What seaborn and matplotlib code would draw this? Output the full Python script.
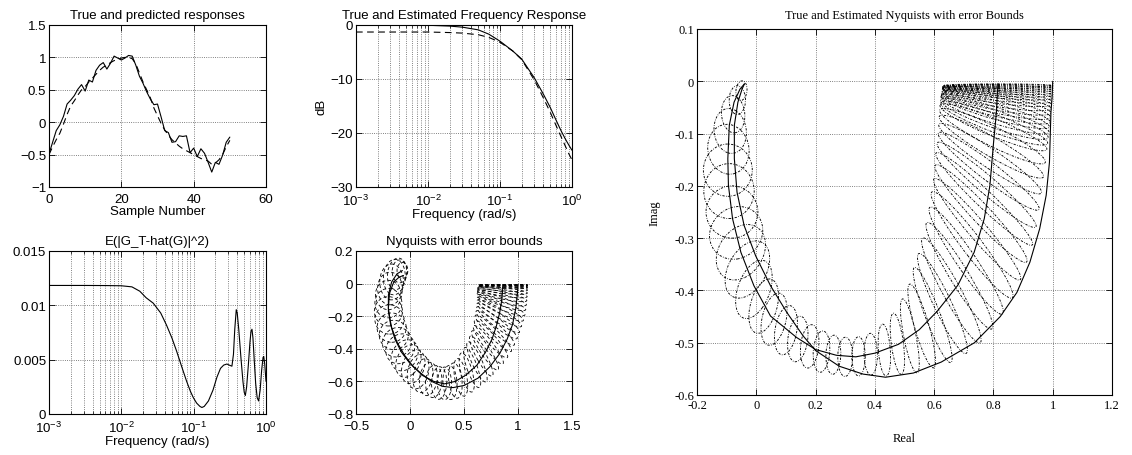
import numpy as np
import matplotlib
matplotlib.use("Agg")
import matplotlib.pyplot as plt
from matplotlib.patches import Ellipse
from matplotlib.ticker import NullFormatter, LogLocator
import seaborn as sns

# ---------------- data ----------------
# top left: true and predicted responses
sample = list(range(51))
y_true = [-0.49, -0.31, -0.13, -0.04, 0.09, 0.28, 0.34, 0.41, 0.51, 0.58, 0.48, 0.65, 0.62,
          0.80, 0.88, 0.92, 0.82, 0.91, 1.02, 0.99, 0.96, 0.99, 1.03, 1.02, 0.88, 0.71, 0.60,
          0.47, 0.36, 0.27, 0.28, 0.08, -0.13, -0.16, -0.31, -0.30, -0.21, -0.22, -0.21, -0.47,
          -0.40, -0.53, -0.41, -0.48, -0.62, -0.77, -0.62, -0.65, -0.51, -0.31, -0.23]
y_pred = [-0.50, -0.38, -0.27, -0.17, -0.03, 0.12, 0.25, 0.33, 0.42, 0.50, 0.55, 0.62, 0.68,
          0.74, 0.80, 0.85, 0.88, 0.92, 0.95, 0.97, 0.99, 1.00, 1.00, 0.98, 0.90, 0.76, 0.62,
          0.50, 0.38, 0.22, 0.10, -0.02, -0.12, -0.20, -0.27, -0.32, -0.37, -0.41, -0.44, -0.47,
          -0.50, -0.53, -0.56, -0.58, -0.60, -0.65, -0.63, -0.58, -0.50, -0.38, -0.28]

# top middle: frequency response in dB
freq_resp = [0.001, 0.002, 0.005, 0.01, 0.02, 0.03, 0.05, 0.07, 0.1, 0.15, 0.2, 0.3, 0.4,
             0.5, 0.6, 0.7, 0.8, 0.9, 1.0]
db_true = [0.0, 0.0, -0.01, -0.05, -0.2, -0.4, -0.9, -1.7, -3.0, -4.8, -6.3, -9.8, -12.8,
           -15.3, -17.6, -19.5, -21.0, -22.2, -23.2]
db_est = [-1.3, -1.3, -1.3, -1.3, -1.4, -1.5, -1.8, -2.3, -3.2, -4.8, -6.4, -10.2, -13.5,
          -16.2, -18.6, -20.6, -22.3, -23.8, -25.0]

# bottom left: error variance
freq_err = [0.001, 0.003, 0.006, 0.01, 0.014, 0.018, 0.022, 0.0276, 0.035, 0.042, 0.05, 0.058,
            0.068, 0.08, 0.09, 0.099, 0.11, 0.122, 0.13, 0.14, 0.16, 0.185, 0.21, 0.235, 0.26,
            0.288, 0.31, 0.338, 0.355, 0.37, 0.388, 0.40, 0.42, 0.45, 0.48, 0.50, 0.518, 0.54,
            0.57, 0.60, 0.62, 0.64, 0.66, 0.69, 0.72, 0.755, 0.79, 0.83, 0.87, 0.91, 0.93,
            0.96, 1.0]
err_var = [0.01183, 0.01183, 0.01182, 0.0118, 0.0117, 0.0113, 0.0107, 0.0102, 0.0093, 0.0082,
           0.0070, 0.0058, 0.0044, 0.0030, 0.0021, 0.0015, 0.0010, 0.0007, 0.0006, 0.0007,
           0.0012, 0.0022, 0.0034, 0.0042, 0.0045, 0.0046, 0.0045, 0.0044, 0.0055, 0.0078,
           0.0096, 0.0093, 0.0078, 0.0052, 0.0030, 0.0020, 0.0017, 0.0025, 0.0045, 0.0066,
           0.0076, 0.0078, 0.0070, 0.0048, 0.0028, 0.0015, 0.0012, 0.0022, 0.0040, 0.0052,
           0.0053, 0.0046, 0.0030]

# bottom middle: Nyquist curves and error ellipses
bm_est_re = [0.86, 0.855, 0.845, 0.83, 0.80, 0.76, 0.70, 0.62, 0.52, 0.42, 0.32, 0.22, 0.12,
             0.03, -0.05, -0.12, -0.17, -0.2, -0.2, -0.17, -0.12, -0.07]
bm_est_im = [-0.01, -0.06, -0.12, -0.18, -0.26, -0.34, -0.42, -0.50, -0.56, -0.60, -0.615,
             -0.60, -0.565, -0.51, -0.44, -0.36, -0.27, -0.17, -0.07, 0.01, 0.06, 0.08]
bm_true_re = [1.0, 0.995, 0.98, 0.95, 0.9, 0.83, 0.74, 0.63, 0.5, 0.4, 0.3, 0.2, 0.1, 0.0,
              -0.08, -0.14, -0.18, -0.2, -0.19, -0.15, -0.1, -0.06]
bm_true_im = [-0.005, -0.06, -0.15, -0.25, -0.34, -0.43, -0.51, -0.58, -0.625, -0.638, -0.63,
              -0.6, -0.55, -0.49, -0.42, -0.34, -0.25, -0.15, -0.06, 0.01, 0.04, 0.05]
bm_ell_x = [0.86, 0.86, 0.859, 0.859, 0.858, 0.857, 0.856, 0.854, 0.851, 0.847, 0.842, 0.836,
            0.828, 0.818, 0.806, 0.79, 0.772, 0.75, 0.725, 0.695, 0.66, 0.62, 0.575, 0.525,
            0.47, 0.42, 0.37, 0.32, 0.27, 0.22, 0.17, 0.12, 0.075, 0.03, -0.015, -0.05, -0.09,
            -0.12, -0.15, -0.17, -0.19, -0.2, -0.2, -0.2, -0.185, -0.17, -0.145, -0.12,
            -0.095, -0.07]
bm_ell_y = [-0.008, -0.012, -0.016, -0.02, -0.03, -0.042, -0.056, -0.072, -0.09, -0.11, -0.132,
            -0.156, -0.182, -0.21, -0.24, -0.272, -0.305, -0.34, -0.375, -0.41, -0.445, -0.48,
            -0.515, -0.545, -0.575, -0.595, -0.607, -0.612, -0.61, -0.6, -0.585, -0.565, -0.54,
            -0.51, -0.475, -0.44, -0.4, -0.36, -0.315, -0.27, -0.22, -0.17, -0.12, -0.07,
            -0.03, 0.01, 0.04, 0.06, 0.075, 0.08]
bm_ell_w = [0.46, 0.46, 0.46, 0.46, 0.46, 0.46, 0.46, 0.46, 0.46, 0.46, 0.46, 0.45, 0.44, 0.43,
            0.42, 0.41, 0.40, 0.38, 0.36, 0.34, 0.32, 0.30, 0.28, 0.26, 0.24, 0.22, 0.21, 0.20,
            0.20, 0.20, 0.21, 0.22, 0.23, 0.24, 0.25, 0.26, 0.27, 0.27, 0.27, 0.27, 0.27, 0.26,
            0.25, 0.24, 0.23, 0.22, 0.20, 0.17, 0.14, 0.10]
bm_ell_h = [0.006, 0.01, 0.015, 0.02, 0.03, 0.035, 0.04, 0.045, 0.05, 0.05, 0.055, 0.055, 0.06,
            0.06, 0.06, 0.065, 0.065, 0.07, 0.07, 0.075, 0.08, 0.085, 0.09, 0.10, 0.11, 0.12,
            0.13, 0.13, 0.14, 0.15, 0.16, 0.17, 0.18, 0.18, 0.18, 0.18, 0.18, 0.18, 0.18, 0.18,
            0.18, 0.18, 0.18, 0.18, 0.2, 0.22, 0.22, 0.2, 0.14, 0.10]
bm_ell_ang = [0, 0, -1, -1.5, -2.5, -4, -6, -8, -10, -12.5, -15, -18, -21, -24, -27, -30, -33,
              -36, -40, -44, -49, -54, -60, -66, -72, -78, -84, 90, 85, 80, 70, 60, 50, 40, 30,
              20, 10, 5, 0, 0, 0, 0, 0, 0, 0, -10, -20, -30, -40, -45]

# right: Nyquist curves and error ellipses (large view)
rp_est_re = [0.815, 0.81, 0.80, 0.788, 0.769, 0.735, 0.68, 0.61, 0.55, 0.48, 0.40, 0.336, 0.27,
             0.20, 0.136, 0.048, -0.008, -0.052, -0.08, -0.094, -0.096, -0.091, -0.075, -0.055,
             -0.04]
rp_est_im = [-0.005, -0.06, -0.12, -0.2, -0.263, -0.327, -0.39, -0.44, -0.475, -0.503, -0.52,
             -0.527, -0.524, -0.513, -0.49, -0.449, -0.391, -0.327, -0.263, -0.199, -0.148,
             -0.084, -0.04, -0.015, -0.005]
rp_true_re = [1.0, 0.998, 0.994, 0.989, 0.978, 0.956, 0.923, 0.879, 0.823, 0.736, 0.624, 0.53,
              0.436, 0.36, 0.28, 0.2, 0.158, 0.103, 0.048, -0.002, -0.041, -0.065, -0.074,
              -0.074, -0.062, -0.048, -0.04]
rp_true_im = [0.0, -0.03, -0.059, -0.155, -0.218, -0.282, -0.346, -0.404, -0.45, -0.5, -0.537,
              -0.558, -0.566, -0.56, -0.545, -0.515, -0.487, -0.442, -0.391, -0.334, -0.276,
              -0.212, -0.148, -0.084, -0.04, -0.015, -0.005]
rp_ell_x = [0.815, 0.815, 0.815, 0.814, 0.814, 0.813, 0.813, 0.812, 0.812, 0.811, 0.810, 0.809,
            0.808, 0.806, 0.805, 0.803, 0.802, 0.800, 0.797, 0.793, 0.789, 0.784, 0.777, 0.769,
            0.758, 0.745, 0.728, 0.708, 0.685, 0.658, 0.628, 0.595, 0.558, 0.518, 0.476, 0.432,
            0.386, 0.345, 0.30, 0.26, 0.22, 0.18, 0.14, 0.10, 0.06, 0.025, -0.008, -0.03,
            -0.052, -0.068, -0.082, -0.092, -0.096, -0.094, -0.088, -0.078, -0.064, -0.05]
rp_ell_y = [-0.008, -0.010, -0.012, -0.014, -0.017, -0.020, -0.023, -0.027, -0.031, -0.036,
            -0.041, -0.046, -0.052, -0.058, -0.065, -0.072, -0.080, -0.088, -0.105, -0.125,
            -0.148, -0.172, -0.198, -0.225, -0.253, -0.283, -0.313, -0.343, -0.372, -0.400,
            -0.425, -0.447, -0.468, -0.487, -0.502, -0.514, -0.522, -0.526, -0.527, -0.523,
            -0.517, -0.507, -0.493, -0.476, -0.455, -0.43, -0.398, -0.36, -0.327, -0.29,
            -0.25, -0.21, -0.17, -0.13, -0.095, -0.063, -0.036, -0.018]
rp_ell_w = [0.37, 0.37, 0.37, 0.37, 0.37, 0.37, 0.37, 0.37, 0.37, 0.37, 0.37, 0.37, 0.37, 0.37,
            0.37, 0.37, 0.37, 0.37, 0.37, 0.37, 0.37, 0.37, 0.37, 0.37, 0.36, 0.35, 0.34, 0.32,
            0.30, 0.28, 0.25, 0.22, 0.18, 0.15, 0.12, 0.10, 0.08, 0.075, 0.075, 0.075, 0.08,
            0.085, 0.09, 0.10, 0.11, 0.12, 0.14, 0.16, 0.17, 0.18, 0.175, 0.17, 0.165, 0.14,
            0.11, 0.08, 0.055, 0.035]
rp_ell_h = [0.006, 0.008, 0.010, 0.012, 0.014, 0.016, 0.018, 0.020, 0.022, 0.025, 0.028, 0.030,
            0.030, 0.030, 0.032, 0.035, 0.035, 0.035, 0.040, 0.040, 0.040, 0.040, 0.040, 0.040,
            0.045, 0.045, 0.050, 0.050, 0.050, 0.050, 0.050, 0.045, 0.045, 0.040, 0.040, 0.040,
            0.045, 0.045, 0.05, 0.05, 0.055, 0.06, 0.065, 0.07, 0.075, 0.08, 0.09, 0.095, 0.10,
            0.10, 0.10, 0.105, 0.10, 0.095, 0.085, 0.07, 0.055, 0.04]
rp_ell_ang = [0, 0, -0.5, -1, -1.5, -2, -2.8, -3.5, -4.2, -5, -6, -7, -8, -9, -10, -11, -12, -13,
              -15.5, -18, -20.5, -23, -25.5, -28, -30.5, -33, -36, -39, -42, -45, -49, -55, -62,
              -70, -76, -82, -88, 90, 88, 84, 78, 72, 68, 62, 55, 48, 38, 25, 15, 5, 0, 0, 0,
              -5, -10, -20, -30, -45]

# ---------------- styling ----------------
sns.set_theme(style="ticks", rc={"axes.edgecolor": "black", "text.color": "black",
                                 "xtick.color": "black", "ytick.color": "black",
                                 "axes.labelcolor": "black"})
plt.rcParams["font.family"] = ["Liberation Sans", "DejaVu Sans"]
plt.rcParams["mathtext.fontset"] = "custom"
plt.rcParams["mathtext.rm"] = "Liberation Sans"
plt.rcParams["mathtext.default"] = "regular"

SANS = 9.5
SERIF = ["Liberation Serif", "DejaVu Serif"]
GRID = dict(linestyle=":", color="0.35", linewidth=0.6)


def num_label(v, minus="\u2212"):
    s = f"{round(v, 6) + 0.0:g}"
    return s.replace("-", minus)


def prep(ax):
    for sp in ax.spines.values():
        sp.set_color("black")
        sp.set_linewidth(0.8)
    ax.tick_params(which="major", direction="in", top=True, right=True, length=4, width=0.6,
                   pad=2)
    ax.tick_params(axis="x", which="major", pad=4.5)
    ax.tick_params(which="minor", direction="in", top=True, right=True, length=2, width=0.5)
    ax.set_axisbelow(True)


def line(ax, x, y, ls="-"):
    sns.lineplot(x=x, y=y, ax=ax, color="black", linewidth=0.8, linestyle=ls,
                 sort=False, estimator=None)


def ellipses(ax, xs, ys, ws, hs, angs, ls, lw):
    for x, y, w, h, a in zip(xs, ys, ws, hs, angs):
        ax.add_patch(Ellipse((x, y), w, h, angle=a, fill=False, edgecolor="black",
                             linestyle=ls, linewidth=lw))


def log_axis(ax):
    ax.set_xscale("log")
    ax.set_xlim(1e-3, 1)
    ax.set_xticks([1e-3, 1e-2, 1e-1, 1],
                  labels=[r"$10^{-3}$", r"$10^{-2}$", r"$10^{-1}$", r"$10^{0}$"], fontsize=SANS)
    ax.xaxis.set_minor_locator(LogLocator(base=10, subs=np.arange(2, 10)))
    ax.xaxis.set_minor_formatter(NullFormatter())
    ax.xaxis.grid(True, which="both", **GRID)
    ax.yaxis.grid(True, which="major", **GRID)


fig = plt.figure(figsize=(11.32, 4.56), dpi=100)
W, H = 1132, 456
ax_tl = fig.add_axes([49 / W, 1 - 188 / H, 217 / W, 162 / H])
ax_tm = fig.add_axes([356 / W, 1 - 188 / H, 216 / W, 162 / H])
ax_bl = fig.add_axes([49 / W, 1 - 415 / H, 217 / W, 163 / H])
ax_bm = fig.add_axes([356 / W, 1 - 415 / H, 216 / W, 163 / H])
ax_r = fig.add_axes([697 / W, 1 - 396 / H, 415 / W, 366 / H])

# top left
prep(ax_tl)
line(ax_tl, sample, y_true, "-")
line(ax_tl, sample, y_pred, (0, (6, 4)))
ax_tl.set_xlim(0, 60)
ax_tl.set_ylim(-1, 1.5)
xt = [0, 20, 40, 60]
yt = [-1, -0.5, 0, 0.5, 1, 1.5]
ax_tl.set_xticks(xt, labels=[num_label(v) for v in xt], fontsize=SANS)
ax_tl.set_yticks(yt, labels=[num_label(v) for v in yt], fontsize=SANS)
ax_tl.grid(True, **GRID)
ax_tl.set_title("True and predicted responses", fontsize=SANS, pad=5)
ax_tl.set_xlabel("Sample Number", fontsize=SANS, labelpad=0)
ax_tl.set_ylabel("")

# top middle
prep(ax_tm)
line(ax_tm, freq_resp, db_true, "-")
line(ax_tm, freq_resp, db_est, (0, (6, 4)))
log_axis(ax_tm)
ax_tm.set_ylim(-30, 0)
yt = [-30, -20, -10, 0]
ax_tm.set_yticks(yt, labels=[num_label(v) for v in yt], fontsize=SANS)
ax_tm.set_title("True and Estimated Frequency Response", fontsize=SANS, pad=5)
ax_tm.set_xlabel("Frequency (rad/s)", fontsize=SANS, labelpad=0)
ax_tm.set_ylabel("dB", fontsize=SANS, labelpad=2)

# bottom left
prep(ax_bl)
line(ax_bl, freq_err, err_var, "-")
log_axis(ax_bl)
ax_bl.set_ylim(0, 0.015)
yt = [0, 0.005, 0.01, 0.015]
ax_bl.set_yticks(yt, labels=[num_label(v) for v in yt], fontsize=SANS)
ax_bl.set_title("E(|G_T-hat(G)|^2)", fontsize=SANS, pad=5)
ax_bl.set_xlabel("Frequency (rad/s)", fontsize=SANS, labelpad=0)
ax_bl.set_ylabel("")

# bottom middle
prep(ax_bm)
ellipses(ax_bm, bm_ell_x, bm_ell_y, bm_ell_w, bm_ell_h, bm_ell_ang, (0, (4, 3)), 0.6)
line(ax_bm, bm_true_re, bm_true_im, "-")
line(ax_bm, bm_est_re, bm_est_im, "-")
ax_bm.set_xlim(-0.5, 1.5)
ax_bm.set_ylim(-0.8, 0.2)
xt = [-0.5, 0, 0.5, 1, 1.5]
yt = [-0.8, -0.6, -0.4, -0.2, 0, 0.2]
ax_bm.set_xticks(xt, labels=[num_label(v) for v in xt], fontsize=SANS)
ax_bm.set_yticks(yt, labels=[num_label(v) for v in yt], fontsize=SANS)
ax_bm.grid(True, **GRID)
ax_bm.set_title("Nyquists with error bounds", fontsize=SANS, pad=5)
ax_bm.set_xlabel("")
ax_bm.set_ylabel("")

# right
prep(ax_r)
ellipses(ax_r, rp_ell_x, rp_ell_y, rp_ell_w, rp_ell_h, rp_ell_ang, (0, (2.5, 1.5, 0.8, 1.5)), 0.65)
line(ax_r, rp_true_re, rp_true_im, "-")
line(ax_r, rp_est_re, rp_est_im, "-")
ax_r.set_xlim(-0.2, 1.2)
ax_r.set_ylim(-0.6, 0.1)
xt = [-0.2, 0, 0.2, 0.4, 0.6, 0.8, 1, 1.2]
yt = [-0.6, -0.5, -0.4, -0.3, -0.2, -0.1, 0, 0.1]
ax_r.set_xticks(xt, labels=[num_label(v, "-") for v in xt], fontsize=9, fontfamily=SERIF)
ax_r.set_yticks(yt, labels=[num_label(v, "-") for v in yt], fontsize=9, fontfamily=SERIF)
ax_r.tick_params(axis="x", which="major", pad=3)
ax_r.grid(True, **GRID)
ax_r.set_title("True and Estimated Nyquists with error Bounds", fontsize=9, pad=8,
               fontfamily=SERIF)
ax_r.set_xlabel("Real", fontsize=9, labelpad=15, fontfamily=SERIF)
ax_r.set_ylabel("Imag", fontsize=9, labelpad=10, fontfamily=SERIF)

fig.savefig("out.png", dpi=100)
